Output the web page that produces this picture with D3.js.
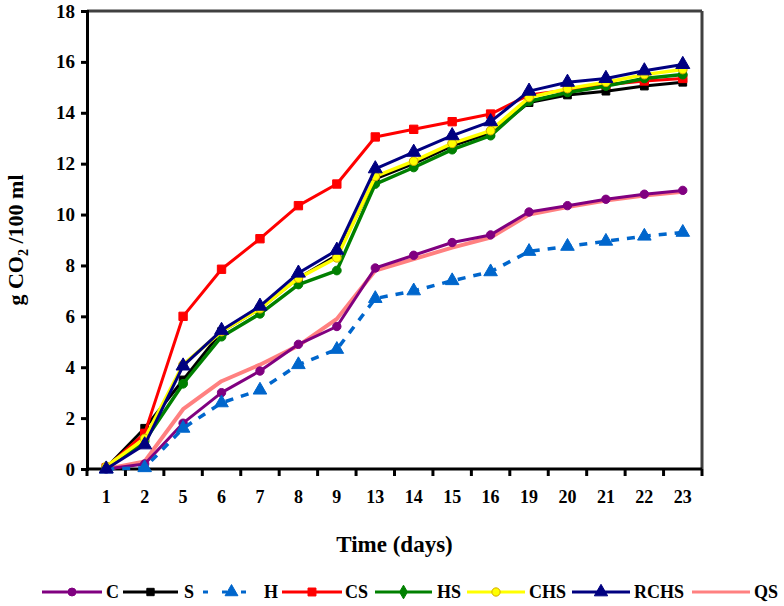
<!DOCTYPE html>
<html>
<head>
<meta charset="utf-8">
<script src="https://cdn.jsdelivr.net/npm/d3@7"></script>
<style>
  html, body { margin: 0; padding: 0; background: #fff; }
  svg { display: block; font-family: "Liberation Serif", "Times New Roman", serif; font-weight: bold; }
</style>
</head>
<body>
<svg id="chart" width="784" height="606"></svg>
<script>
const days = ["1","2","5","6","7","8","9","13","14","15","16","19","20","21","22","23"];
const yTicks = [0,2,4,6,8,10,12,14,16,18];

const C    = [0.0, 0.2, 1.8, 3.0, 3.85, 4.9, 5.6, 7.9, 8.4, 8.9, 9.2, 10.1, 10.35, 10.6, 10.8, 10.95];
const S    = [0.05, 1.6, 3.5, 5.4, 6.3, 7.5, 8.4, 11.4, 12.0, 12.7, 13.2, 14.4, 14.7, 14.85, 15.05, 15.2];
const H    = [0.0, 0.05, 1.6, 2.6, 3.1, 4.1, 4.7, 6.7, 7.0, 7.4, 7.75, 8.55, 8.75, 8.95, 9.15, 9.3];
const CS   = [0.05, 1.4, 6.0, 7.85, 9.05, 10.35, 11.2, 13.05, 13.35, 13.65, 13.95, 14.7, 14.9, 15.1, 15.25, 15.35];
const HS   = [0.05, 1.1, 3.35, 5.2, 6.1, 7.25, 7.8, 11.2, 11.85, 12.55, 13.1, 14.45, 14.8, 15.05, 15.35, 15.5];
const CHS  = [0.1, 1.2, 4.1, 5.4, 6.3, 7.5, 8.3, 11.5, 12.1, 12.8, 13.3, 14.6, 14.95, 15.2, 15.5, 15.7];
const RCHS = [0.0, 0.95, 4.05, 5.45, 6.4, 7.7, 8.6, 11.8, 12.45, 13.1, 13.65, 14.85, 15.2, 15.35, 15.65, 15.9];
const QS   = [0.0, 0.3, 2.35, 3.45, 4.1, 4.85, 5.9, 7.8, 8.25, 8.7, 9.1, 10.0, 10.3, 10.55, 10.75, 10.9];

const seriesNames = ["C","S","H","CS","HS","CHS","RCHS","QS"];

const styles = {
  C:    {color:"#800080", marker:"circle",   fill:"#800080", stroke:"#800080", dash:null, width:3, size:55},
  S:    {color:"#000000", marker:"square",   fill:"#000000", stroke:"#000000", dash:null, width:3, size:60},
  H:    {color:"#0066cc", marker:"triangle", fill:"#0066cc", stroke:"#0066cc", dash:"8,8", width:3.5, size:80},
  CS:   {color:"#ff0000", marker:"square",   fill:"#ff0000", stroke:"#ff0000", dash:null, width:3, size:70},
  HS:   {color:"#008000", marker:"circle",   fill:"#008000", stroke:"#008000", dash:null, width:3.5, size:60},
  CHS:  {color:"#ffff00", marker:"circle",   fill:"#ffff00", stroke:"#d4a800", dash:null, width:3.5, size:60},
  RCHS: {color:"#000080", marker:"triangle", fill:"#000080", stroke:"#000080", dash:null, width:3, size:85},
  QS:   {color:"#ff8080", marker:null,       fill:"none",    stroke:"#ff8080", dash:null, width:4, size:0}
};
const data = {C, S, H, CS, HS, CHS, RCHS, QS};
const drawOrder = ["QS","C","S","H","CS","HS","CHS","RCHS"];

const svg = d3.select("#chart");
const margin = {left: 87, right: 82, top: 11, bottom: 137};
const W = 784, Hh = 606;
const x = d3.scaleBand().domain(days).range([margin.left, W - margin.right]).padding(0);
const y = d3.scaleLinear().domain([0, 18]).range([Hh - margin.bottom, margin.top]);
const cx = d => x(d) + x.bandwidth() / 2;

// Frame: top and right in gray
svg.append("line").attr("x1", margin.left).attr("x2", W - margin.right)
  .attr("y1", y(18)).attr("y2", y(18)).attr("stroke", "#404040").attr("stroke-width", 3);
svg.append("line").attr("x1", W - margin.right).attr("x2", W - margin.right)
  .attr("y1", y(18)).attr("y2", y(0)).attr("stroke", "#404040").attr("stroke-width", 3);

// Y axis
const yAxis = svg.append("g").attr("transform", `translate(${margin.left},0)`)
  .call(d3.axisLeft(y).tickValues(yTicks).tickSize(6).tickPadding(6).tickFormat(d3.format("d")));
yAxis.select(".domain").attr("stroke", "#000").attr("stroke-width", 3);
yAxis.selectAll(".tick line").attr("stroke", "#000").attr("stroke-width", 3);
yAxis.selectAll(".tick text").attr("font-size", 19).attr("font-weight", "bold")
  .attr("font-family", "Liberation Serif, serif").attr("fill", "#000");

// X axis with ticks at band boundaries
const xAxisG = svg.append("g").attr("transform", `translate(0,${y(0)})`);
xAxisG.append("line").attr("x1", margin.left).attr("x2", W - margin.right)
  .attr("stroke", "#000").attr("stroke-width", 3);
const boundaries = days.map(d => x(d)).concat([x(days[days.length - 1]) + x.bandwidth()]);
xAxisG.selectAll("line.tk").data(boundaries).join("line").attr("class", "tk")
  .attr("x1", d => d).attr("x2", d => d).attr("y1", 0).attr("y2", 7)
  .attr("stroke", "#000").attr("stroke-width", 3);
xAxisG.selectAll("text").data(days).join("text")
  .attr("x", d => cx(d)).attr("y", 34).attr("text-anchor", "middle")
  .attr("font-size", 18).attr("fill", "#000").text(d => d);

// Axis titles
svg.append("text").attr("x", (margin.left + W - margin.right) / 2).attr("y", 552)
  .attr("text-anchor", "middle").attr("font-size", 23).text("Time (days)");
const yl = svg.append("text").attr("transform", `translate(23,${(y(0) + y(18)) / 2}) rotate(-90)`)
  .attr("text-anchor", "middle").attr("font-size", 22);
yl.append("tspan").text("g CO");
yl.append("tspan").attr("font-size", 14).attr("dy", 5).text("2");
yl.append("tspan").attr("dy", -5).text(" /100 ml");

const symbolType = m => m === "circle" ? d3.symbolCircle : m === "square" ? d3.symbolSquare : d3.symbolTriangle;

const line = d3.line().x((v, i) => cx(days[i])).y(v => y(v));

drawOrder.forEach(name => {
  const st = styles[name];
  const vals = data[name];
  svg.append("path").datum(vals).attr("d", line).attr("fill", "none")
    .attr("stroke", st.color).attr("stroke-width", st.width)
    .attr("stroke-dasharray", st.dash).attr("stroke-linejoin", "round");
  if (st.marker) {
    svg.append("g").selectAll("path").data(vals).join("path")
      .attr("transform", (v, i) => `translate(${cx(days[i])},${y(v)})`)
      .attr("d", d3.symbol().type(symbolType(st.marker)).size(st.size))
      .attr("fill", st.fill).attr("stroke", st.stroke).attr("stroke-width", 1);
  }
});

// Legend
const legendItems = [
  {name:"C",    x0: 42,  x1: 102, tx: 106},
  {name:"S",    x0: 123, x1: 178, tx: 184},
  {name:"H",    x0: 203, x1: 260, tx: 264},
  {name:"CS",   x0: 282, x1: 342, tx: 345},
  {name:"HS",   x0: 375, x1: 432, tx: 437},
  {name:"CHS",  x0: 467, x1: 525, tx: 529},
  {name:"RCHS", x0: 572, x1: 630, tx: 634},
  {name:"QS",   x0: 692, x1: 750, tx: 754}
];
const lg = svg.append("g");
const ly = 592;
legendItems.forEach(it => {
  const st = styles[it.name];
  lg.append("line").attr("x1", it.x0).attr("x2", it.x1).attr("y1", ly).attr("y2", ly)
    .attr("stroke", st.color).attr("stroke-width", 3)
    .attr("stroke-dasharray", it.name === "H" ? "5,14" : null);
  if (st.marker) {
    const t = it.name === "HS" ? d3.symbolDiamond : symbolType(st.marker);
    lg.append("path").attr("transform", `translate(${(it.x0 + it.x1) / 2},${ly})`)
      .attr("d", d3.symbol().type(t).size(st.size * 0.9))
      .attr("fill", st.fill).attr("stroke", st.stroke).attr("stroke-width", 1);
  }
  lg.append("text").attr("x", it.tx).attr("y", ly + 6).attr("font-size", 18).text(it.name);
});
</script>
</body>
</html>
